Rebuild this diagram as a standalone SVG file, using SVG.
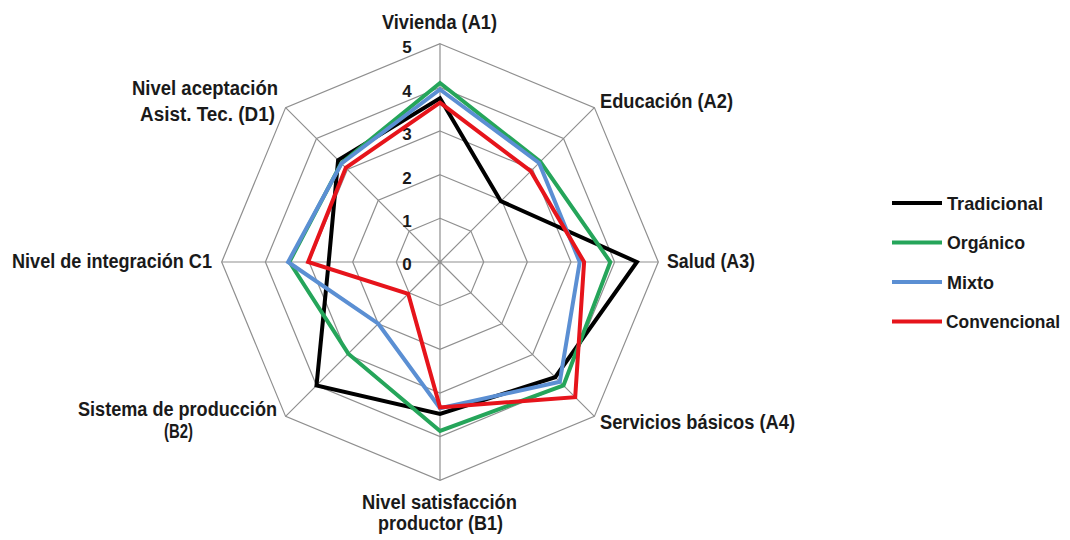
<svg xmlns="http://www.w3.org/2000/svg" width="1070" height="540" viewBox="0 0 1070 540">
<style>
.grid{fill:none;stroke:#8f8f8f;stroke-width:1.2}
.lbl{font-family:"Liberation Sans",Arial,sans-serif;font-weight:bold;font-size:19.5px;fill:#1a1a1a}
.leg{font-size:18.5px}
.tick{font-family:"Liberation Sans",Arial,sans-serif;font-weight:bold;font-size:17px;fill:#1a1a1a;text-anchor:middle}
.s{fill:none;stroke-width:4;stroke-linejoin:miter}
.trad{stroke:#000000}
.org{stroke:#25A55A}
.mix{stroke:#5B8FD3}
.conv{stroke:#E6141B}
</style>
<rect width="1070" height="540" fill="#ffffff"/>
<g id="grid">
<polygon class="grid" points="440,43.7 594.4,107.6 658.3,262 594.4,416.4 440,480.3 285.6,416.4 221.7,262 285.6,107.6"/>
<polygon class="grid" points="440,87.4 563.5,138.5 614.6,262 563.5,385.5 440,436.6 316.5,385.5 265.4,262 316.5,138.5"/>
<polygon class="grid" points="440,131 532.6,169.4 571,262 532.6,354.6 440,393 347.4,354.6 309,262 347.4,169.4"/>
<polygon class="grid" points="440,174.7 501.7,200.3 527.3,262 501.7,323.7 440,349.3 378.3,323.7 352.7,262 378.3,200.3"/>
<polygon class="grid" points="440,218.3 470.9,231.1 483.7,262 470.9,292.9 440,305.7 409.1,292.9 396.3,262 409.1,231.1"/>
<path class="grid" d="M440,262L440,43.7M440,262L594.4,107.6M440,262L658.3,262M440,262L594.4,416.4M440,262L440,480.3M440,262L285.6,416.4M440,262L221.7,262M440,262L285.6,107.6"/>
</g>
<g id="ticks">
<text class="tick" x="407" y="53">5</text>
<text class="tick" x="407" y="97">4</text>
<text class="tick" x="407" y="140">3</text>
<text class="tick" x="407" y="184">2</text>
<text class="tick" x="407" y="227">1</text>
<text class="tick" x="407" y="270">0</text>
</g>
<g id="series">
<polygon id="tradicional" class="s trad" points="440,98.3 500.8,201.2 636.9,262 555.2,377.2 440,413.9 316.5,385.5 328.7,262 338.1,160.1"/>
<polygon id="organico" class="s org" points="440,83 540.3,161.7 610.3,262 563.5,385.5 440,431 348.3,353.7 289.4,262 341.2,163.2"/>
<polygon id="mixto" class="s mix" points="440,89.5 539.1,162.9 579.7,262 559.8,381.8 440,408.3 378.3,323.7 288.1,262 341.5,163.5"/>
<polygon id="convencional" class="s conv" points="440,102.6 530.8,171.2 584.1,262 575.2,397.2 440,407.4 408.2,293.8 308.1,262 345.8,167.8"/>
</g>
<g id="axis-labels">
<text class="lbl" x="382" y="29" textLength="115" lengthAdjust="spacingAndGlyphs">Vivienda (A1)</text>
<text class="lbl" x="600" y="108" textLength="133" lengthAdjust="spacingAndGlyphs">Educación (A2)</text>
<text class="lbl" x="667" y="268" textLength="88" lengthAdjust="spacingAndGlyphs">Salud (A3)</text>
<text class="lbl" x="600" y="429" textLength="195" lengthAdjust="spacingAndGlyphs">Servicios básicos (A4)</text>
<text class="lbl" x="362" y="509" textLength="155" lengthAdjust="spacingAndGlyphs">Nivel  satisfacción</text>
<text class="lbl" x="378" y="530" textLength="125" lengthAdjust="spacingAndGlyphs">productor (B1)</text>
<text class="lbl" x="78" y="416" textLength="199" lengthAdjust="spacingAndGlyphs">Sistema de producción</text>
<text class="lbl" x="164" y="438" textLength="29" lengthAdjust="spacingAndGlyphs">(B2)</text>
<text class="lbl" x="12" y="268" textLength="200" lengthAdjust="spacingAndGlyphs">Nivel de integración C1</text>
<text class="lbl" x="132" y="95" textLength="146" lengthAdjust="spacingAndGlyphs">Nivel  aceptación</text>
<text class="lbl" x="140" y="121" textLength="135" lengthAdjust="spacingAndGlyphs">Asist. Tec. (D1)</text>
</g>
<g id="legend">
<line class="s trad" x1="892" y1="203" x2="942" y2="203"/>
<text class="lbl leg" x="947" y="209.5" textLength="96" lengthAdjust="spacingAndGlyphs">Tradicional</text>
<line class="s org" x1="892" y1="242.5" x2="942" y2="242.5"/>
<text class="lbl leg" x="947" y="249" textLength="78" lengthAdjust="spacingAndGlyphs">Orgánico</text>
<line class="s mix" x1="892" y1="282" x2="942" y2="282"/>
<text class="lbl leg" x="947" y="288.5" textLength="47" lengthAdjust="spacingAndGlyphs">Mixto</text>
<line class="s conv" x1="892" y1="321.5" x2="942" y2="321.5"/>
<text class="lbl" x="946" y="328" textLength="114" lengthAdjust="spacingAndGlyphs" style="font-size:18px">Convencional</text>
</g>
</svg>
